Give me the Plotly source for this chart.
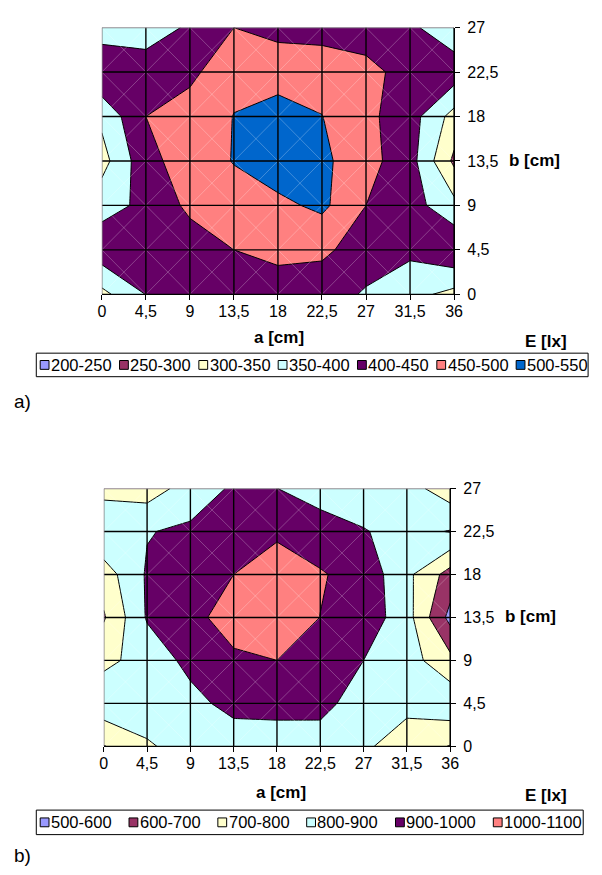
import plotly.graph_objects as go

W, H = 602, 875
FONT = "Liberation Sans, Arial, sans-serif"

# measurement grid
A = [0, 4.5, 9, 13.5, 18, 22.5, 27, 31.5, 36]          # a [cm]
B = [0, 4.5, 9, 13.5, 18, 22.5, 27]                     # b [cm]
A_LABELS = ["0", "4,5", "9", "13,5", "18", "22,5", "27", "31,5", "36"]
B_LABELS = ["0", "4,5", "9", "13,5", "18", "22,5", "27"]

# illuminance E [lx], rows b = 0 ... 27, columns a = 0 ... 36
E_A = [
    [336, 401, 415, 420, 413, 435, 392, 366, 335],
    [432, 430, 423, 450, 470, 455, 438, 411, 444],
    [381, 411, 461, 480, 488, 511, 450, 421, 365],
    [331, 434, 475, 502, 530, 511, 468, 420, 290],
    [361, 450, 475, 501, 529, 501, 462, 422, 331],
    [448, 430, 437, 489, 470, 480, 462, 435, 429],
    [371, 371, 408, 450, 440, 430, 430, 410, 365],
]
E_B = [
    [695, 790, 834, 835, 822, 837, 813, 760, 695],
    [867, 846, 867, 935, 950, 940, 837, 821, 870],
    [777, 836, 930, 988, 1000, 970, 900, 843, 730],
    [690, 910, 980, 1030, 1060, 999, 963, 840, 570],
    [750, 911, 950, 1000, 1040, 1008, 964, 825, 660],
    [895, 895, 918, 960, 987, 950, 905, 870, 905],
    [765, 751, 843, 914, 901, 852, 850, 839, 746],
]

BANDS_A = ["200-250", "250-300", "300-350", "350-400", "400-450", "450-500", "500-550"]
BANDS_B = ["500-600", "600-700", "700-800", "800-900", "900-1000", "1000-1100"]
LEVEL_A = (200, 50)
LEVEL_B = (500, 100)
PALETTE = ["#9999FF", "#993366", "#FFFFCC", "#CCFFFF", "#660066", "#FF8080", "#0066CC"]

TICK_FS = 16
TITLE_FS = 17
LEGEND_FS = 16.5


def px(x):
    return x / W


def py(y):
    return 1 - y / H


def text_width(s, fs):
    w = 0
    for ch in s:
        w += 0.333 if ch == "-" else 0.556
    return w * fs


fig = go.Figure()


def add_panel(idx, z, bands, level, box):
    lo, step = level
    colors = PALETTE[:len(bands)]
    n = len(bands) - 1
    xa, ya = ("x", "y") if idx == 1 else ("x%d" % idx, "y%d" % idx)
    fig.add_trace(go.Contour(
        x=A, y=B, z=z, xaxis=xa, yaxis=ya,
        autocontour=False,
        contours=dict(start=lo + step, end=lo + step * n, size=step, coloring="fill"),
        colorscale=[[k / n, c] for k, c in enumerate(colors)],
        showscale=False, hoverinfo="skip",
        line=dict(color="black", width=1, smoothing=0),
    ))
    x0, y0, x1, y1 = box
    tf = dict(family=FONT, size=TICK_FS, color="black")
    axx = dict(domain=[px(x0), px(x1)], range=[0, 36], tickvals=A, ticktext=A_LABELS,
               ticks="outside", ticklen=5, tickcolor="black", showgrid=False, zeroline=False,
               showline=True, linecolor="black", linewidth=1, anchor=ya, ticklabelstandoff=-3,
               tickfont=tf, fixedrange=True)
    axy = dict(domain=[py(y1), py(y0)], range=[0, 27], tickvals=B, ticktext=B_LABELS,
               side="right", ticks="outside", ticklen=5, tickcolor="black", showgrid=False,
               zeroline=False, showline=True, linecolor="black", linewidth=1, anchor=xa,
               ticklabelstandoff=4, tickfont=tf, fixedrange=True)
    kx = "xaxis" if idx == 1 else "xaxis%d" % idx
    ky = "yaxis" if idx == 1 else "yaxis%d" % idx
    fig.update_layout({kx: axx, ky: axy})

    # faint cell diagonals, then the grid on top
    for i in range(len(A) - 1):
        for j in range(len(B) - 1):
            for (xs, ys) in (((A[i], A[i + 1]), (B[j], B[j + 1])), ((A[i], A[i + 1]), (B[j + 1], B[j]))):
                fig.add_shape(type="line", xref=xa, yref=ya, x0=xs[0], x1=xs[1], y0=ys[0], y1=ys[1],
                              line=dict(color="rgba(255,255,255,0.25)", width=1), layer="above")
    for a in A[1:-1]:
        fig.add_shape(type="line", xref=xa, yref=ya, x0=a, x1=a, y0=0, y1=27,
                      line=dict(color="black", width=1.4), layer="above")
    for b in B[1:-1]:
        fig.add_shape(type="line", xref=xa, yref=ya, x0=0, x1=36, y0=b, y1=b,
                      line=dict(color="black", width=1.4), layer="above")
    fig.add_shape(type="line", xref=xa, yref=ya, x0=0, x1=0, y0=0, y1=27,
                  line=dict(color="#808080", width=1.4), layer="above")
    fig.add_shape(type="line", xref=xa, yref=ya, x0=0, x1=36, y0=27, y1=27,
                  line=dict(color="#808080", width=1.4), layer="above")
    fig.add_shape(type="line", xref=xa, yref=ya, x0=36, x1=36, y0=0, y1=27,
                  line=dict(color="black", width=1.4), layer="above")
    fig.add_shape(type="line", xref=xa, yref=ya, x0=0, x1=36, y0=0, y1=0,
                  line=dict(color="black", width=1.4), layer="above")


def add_text(x, y, s, size=15, bold=False, anchor="center"):
    fig.add_annotation(x=px(x), y=py(y), xref="paper", yref="paper", showarrow=False,
                       text="<b>%s</b>" % s if bold else s, xanchor=anchor, yanchor="middle",
                       font=dict(family=FONT, size=size, color="black"))


def add_legend(bands, x0, x1, y0, y1, fs=LEGEND_FS):
    colors = PALETTE[:len(bands)]
    fig.add_shape(type="rect", xref="paper", yref="paper", x0=px(x0), x1=px(x1),
                  y0=py(y1), y1=py(y0), line=dict(color="black", width=1), fillcolor="white")
    sq, gap = 9, 2
    widths = [text_width(s, fs) for s in bands]
    used = sum(sq + gap + w for w in widths)
    spacing = (x1 - x0 - 6 - used) / (len(bands) - 1)
    cx = x0 + 4
    yc = (y0 + y1) / 2
    for s, c, w in zip(bands, colors, widths):
        fig.add_shape(type="rect", xref="paper", yref="paper", x0=px(cx), x1=px(cx + sq),
                      y0=py(yc + sq / 2), y1=py(yc - sq / 2),
                      line=dict(color="black", width=1), fillcolor=c)
        add_text(cx + sq + gap - 2, yc, s, size=fs, anchor="left")
        cx += sq + gap + w + spacing


# panel a)
add_panel(1, E_A, BANDS_A, LEVEL_A, (100, 20, 460, 292))
add_text(514, 156, "b [cm]", size=TITLE_FS, bold=True, anchor="left")
add_text(281, 336, "a [cm]", size=TITLE_FS, bold=True)
add_text(577, 340, "E [lx]", size=TITLE_FS, bold=True, anchor="right")
add_legend(BANDS_A, 33, 597, 352, 376)
add_text(8, 401, "a)", size=19, anchor="left")

# panel b)
add_panel(2, E_B, BANDS_B, LEVEL_B, (102, 490, 456, 753))
add_text(510, 621, "b [cm]", size=TITLE_FS, bold=True, anchor="left")
add_text(283, 800, "a [cm]", size=TITLE_FS, bold=True)
add_text(577, 803, "E [lx]", size=TITLE_FS, bold=True, anchor="right")
add_legend(BANDS_B, 33, 592, 818, 843)
add_text(8, 864, "b)", size=19, anchor="left")

fig.update_layout(width=W, height=H, autosize=False, margin=dict(l=0, r=0, t=0, b=0),
                  paper_bgcolor="white", plot_bgcolor="white", showlegend=False)

fig.write_html("out.html", config={"displayModeBar": False})
